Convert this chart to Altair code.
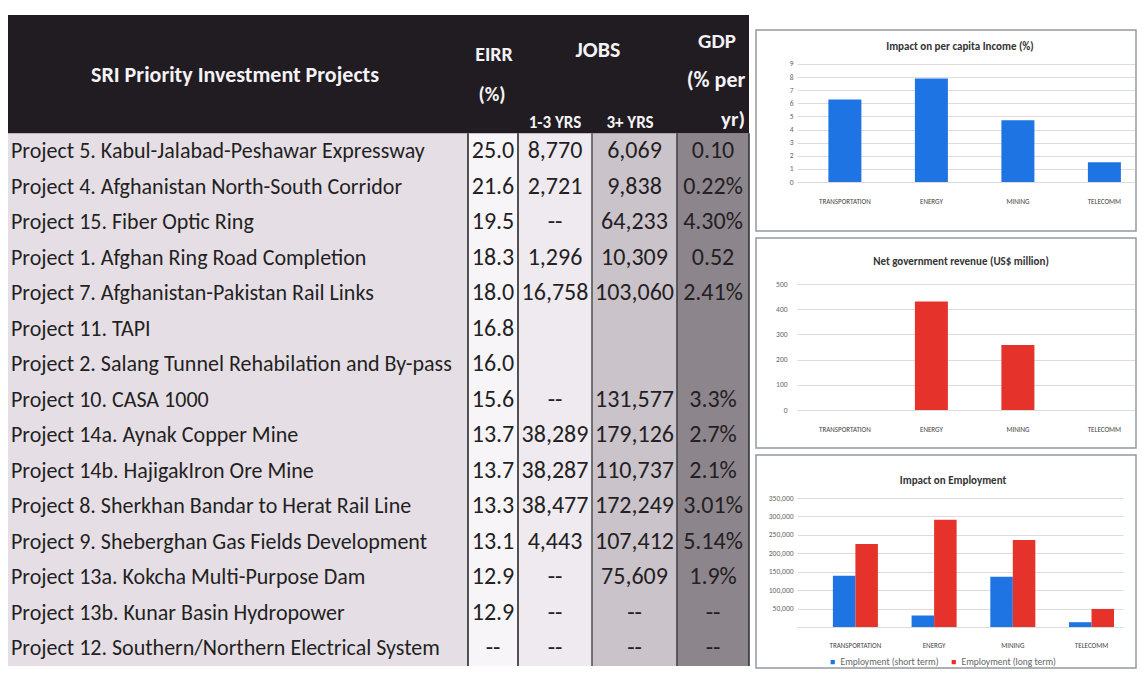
import altair as alt
import pandas as pd

# ---------------- data ----------------
projects = [
    "Project 5. Kabul-Jalabad-Peshawar Expressway",
    "Project 4. Afghanistan North-South Corridor",
    "Project 15. Fiber Optic Ring",
    "Project 1. Afghan Ring Road Completion",
    "Project 7. Afghanistan-Pakistan Rail Links",
    "Project 11. TAPI",
    "Project 2. Salang Tunnel Rehabilation and By-pass",
    "Project 10. CASA 1000",
    "Project 14a. Aynak Copper Mine",
    "Project 14b. HajigakIron Ore Mine",
    "Project 8. Sherkhan Bandar to Herat Rail Line",
    "Project 9. Sheberghan Gas Fields Development",
    "Project 13a. Kokcha Multi-Purpose Dam",
    "Project 13b. Kunar Basin Hydropower",
    "Project 12. Southern/Northern Electrical System",
]
eirr = ["25.0", "21.6", "19.5", "18.3", "18.0", "16.8", "16.0", "15.6",
        "13.7", "13.7", "13.3", "13.1", "12.9", "12.9", "--"]
jobs_short = ["8,770", "2,721", "--", "1,296", "16,758", "", "", "--",
              "38,289", "38,287", "38,477", "4,443", "--", "--", "--"]
jobs_long = ["6,069", "9,838", "64,233", "10,309", "103,060", "", "", "131,577",
             "179,126", "110,737", "172,249", "107,412", "75,609", "--", "--"]
gdp = ["0.10", "0.22%", "4.30%", "0.52", "2.41%", "", "", "3.3%",
       "2.7%", "2.1%", "3.01%", "5.14%", "1.9%", "--", "--"]

header_labels = ["SRI Priority Investment Projects", "EIRR", "(%)", "JOBS",
                 "1-3 YRS", "3+ YRS", "GDP", "(% per", "yr)"]

sectors = ["TRANSPORTATION", "ENERGY", "MINING", "TELECOMM"]
income_pct = [6.3, 7.9, 4.7, 1.5]
revenue_musd = [0, 431, 258, 0]
emp_series = ["Employment (short term)", "Employment (long term)"]
emp_short = [139000, 31000, 136000, 13000]
emp_long = [225000, 291000, 236000, 49000]

panel_titles = ["Impact on per capita Income (%)", "Net government revenue (US$ million)",
                "Impact on Employment"]

# ---------------- style / layout ----------------
FONT = "Carlito, Lato, sans-serif"
BLUE = "#1f74e3"
RED = "#e5322b"
TW, TH = 741, 658
Y_TOP = -3.53
col_edges = [0, 460, 510, 584, 669, 741]
col_fill = ["#e5dfe5", "#f7f5f7", "#efeaef", "#cbc3ca", "#8d858c"]
line_col = ["#2a2a2a", "#2a2a2a", "#555555", "#444444", "#333333"]
hdr_pos = [(227, -1.64, 22), (486, -2.21, 20), (484, -1.08, 20), (590, -2.35, 22),
           (547, -0.29, 17), (622, -0.29, 17), (709, -2.57, 21), (708, -1.50, 22),
           (725, -0.38, 21)]

xs_t = alt.Scale(domain=[0, TW], nice=False, zero=False)
ys_t = alt.Scale(domain=[Y_TOP, 15], nice=False, zero=False, reverse=True)

# ---------------- table ----------------
cols_df = pd.DataFrame({
    "x0": col_edges[:-1], "x1": col_edges[1:],
    "y0": [0] * 5, "y1": [15] * 5, "fill": col_fill,
})
col_bg = alt.Chart(cols_df).mark_rect().encode(
    x=alt.X("x0:Q", scale=xs_t, axis=None), x2="x1:Q",
    y=alt.Y("y0:Q", scale=ys_t, axis=None), y2="y1:Q",
    color=alt.Color("fill:N", scale=None),
)
hdr_df = pd.DataFrame({"x0": [0], "x1": [TW], "y0": [Y_TOP + 0.2], "y1": [0]})
hdr_bg = alt.Chart(hdr_df).mark_rect(color="#201c22").encode(
    x=alt.X("x0:Q", scale=xs_t, axis=None), x2="x1:Q",
    y=alt.Y("y0:Q", scale=ys_t, axis=None), y2="y1:Q",
)
lines_df = pd.DataFrame({"x": col_edges[1:], "y0": [0] * 5, "y1": [15] * 5, "c": line_col})
vlines = alt.Chart(lines_df).mark_rule(strokeWidth=1.6).encode(
    x=alt.X("x:Q", scale=xs_t, axis=None),
    y=alt.Y("y0:Q", scale=ys_t, axis=None), y2="y1:Q",
    color=alt.Color("c:N", scale=None),
)
names_df = pd.DataFrame({"t": projects, "x": [3] * 15, "y": [i + 0.5 for i in range(15)]})
names = alt.Chart(names_df).mark_text(
    align="left", baseline="middle", font=FONT, fontSize=22, color="#231f23"
).encode(
    x=alt.X("x:Q", scale=xs_t, axis=None), y=alt.Y("y:Q", scale=ys_t, axis=None), text="t:N"
)
vals = []
for c, col in enumerate([eirr, jobs_short, jobs_long, gdp]):
    cx = (col_edges[c + 1] + col_edges[c + 2]) / 2
    for i, v in enumerate(col):
        vals.append({"t": v, "x": cx, "y": i + 0.5})
vals_df = pd.DataFrame(vals)
values = alt.Chart(vals_df).mark_text(
    align="center", baseline="middle", font=FONT, fontSize=24, color="#231f23"
).encode(
    x=alt.X("x:Q", scale=xs_t, axis=None), y=alt.Y("y:Q", scale=ys_t, axis=None), text="t:N"
)
hdr_txt_df = pd.DataFrame({
    "t": header_labels,
    "x": [p[0] for p in hdr_pos], "y": [p[1] for p in hdr_pos], "fs": [p[2] for p in hdr_pos],
})
hdr_txt = alt.Chart(hdr_txt_df).mark_text(
    align="center", baseline="middle", font=FONT, fontWeight=600, color="#f4f2f4"
).encode(
    x=alt.X("x:Q", scale=xs_t, axis=None), y=alt.Y("y:Q", scale=ys_t, axis=None),
    text="t:N", size=alt.Size("fs:Q", scale=None),
)
table = alt.layer(col_bg, hdr_bg, vlines, names, values, hdr_txt).properties(width=TW, height=TH)

# ---------------- right panels ----------------
one = pd.DataFrame({"k": [0]})


def box(x0, x1, y0, y1):
    return alt.Chart(one).mark_rect(fill="white", fillOpacity=0, stroke="#9399a1", strokeWidth=1.5).encode(
        x=alt.value(x0), x2=alt.value(x1), y=alt.value(y0), y2=alt.value(y1)
    )


def title_mark(text, x, y):
    return alt.Chart(pd.DataFrame({"t": [text]})).mark_text(
        font=FONT, fontSize=11, fontWeight="bold", color="#333333", align="center", baseline="middle"
    ).encode(text="t:N", x=alt.value(x), y=alt.value(y))


def x_axis(pad):
    return alt.Axis(title=None, labelAngle=0, ticks=False, tickSize=0, domain=False,
                    labelPadding=pad, labelFontSize=7, labelColor="#444444", labelFont=FONT)


def y_axis(vals, pad, expr=None):
    kw = dict(title=None, values=vals, ticks=False, tickSize=0, domain=False, labelPadding=pad,
              labelFontSize=7.5, labelColor="#666666", labelFont=FONT, grid=True,
              gridColor="#dcdcdc", gridWidth=1)
    if expr:
        kw["labelExpr"] = expr
    return alt.Axis(**kw)


xs12 = alt.Scale(domain=sectors, paddingInner=0.6185, paddingOuter=0.263, align=0.69)

inc_df = pd.DataFrame({"sector": sectors, "value": income_pct})
bars1 = alt.Chart(inc_df).mark_bar(color=BLUE).encode(
    x=alt.X("sector:N", scale=xs12, sort=sectors, axis=x_axis(15)),
    y=alt.Y("value:Q", scale=alt.Scale(domain=[0, 13.27], nice=False),
            axis=y_axis(list(range(10)), 4)),
)
p1 = alt.layer(box(-41, 339, 22, 223), title_mark(panel_titles[0], 163, 39), bars1).properties(
    width=338, height=174)

rev_df = pd.DataFrame({"sector": sectors, "value": revenue_musd})
bars2 = alt.Chart(rev_df).mark_bar(color=RED).encode(
    x=alt.X("sector:N", scale=xs12, sort=sectors, axis=x_axis(15)),
    y=alt.Y("value:Q", scale=alt.Scale(domain=[0, 500], nice=False),
            axis=y_axis([0, 100, 200, 300, 400, 500], 10)),
)
p2 = alt.layer(box(-41, 339, -46, 164), title_mark(panel_titles[1], 164, -22), bars2).properties(
    width=338, height=126)

emp_rows = []
for s, a, b in zip(sectors, emp_short, emp_long):
    emp_rows.append({"sector": s, "series": emp_series[0], "value": a})
    emp_rows.append({"sector": s, "series": emp_series[1], "value": b})
emp_df = pd.DataFrame(emp_rows)
xs3 = alt.Scale(domain=sectors, paddingInner=0.428, paddingOuter=0.285, align=0.80)
bars3 = alt.Chart(emp_df).mark_bar().encode(
    x=alt.X("sector:N", scale=xs3, sort=sectors, axis=x_axis(14)),
    xOffset=alt.XOffset("series:N", sort=emp_series, scale=alt.Scale(paddingInner=0, paddingOuter=0)),
    y=alt.Y("value:Q", scale=alt.Scale(domain=[0, 350000], nice=False),
            axis=y_axis(list(range(0, 350001, 50000)), 4,
                        "datum.value == 0 ? '' : format(datum.value, ',')")),
    color=alt.Color("series:N", sort=emp_series,
                    scale=alt.Scale(domain=emp_series, range=[BLUE, RED]),
                    legend=alt.Legend(orient="none", legendX=820, legendY=649, direction="horizontal",
                                      title=None, symbolType="square", symbolSize=18,
                                      labelFontSize=9.5, labelColor="#666666", labelFont=FONT,
                                      columnPadding=10, padding=0, labelOffset=3)),
)
p3 = alt.layer(box(-41, 339, -43, 170), title_mark(panel_titles[2], 156, -17), bars3).properties(
    width=326, height=129)

right = alt.vconcat(p1, p2, p3, spacing=5)

chart = alt.hconcat(table, right, spacing=5).properties(
    padding=0, background="white"
).configure_view(strokeWidth=0)

chart.save("out.html", embed_options={"renderer": "svg", "actions": False})
